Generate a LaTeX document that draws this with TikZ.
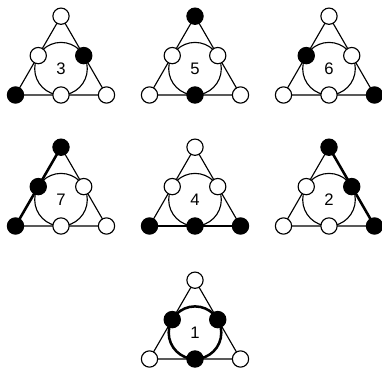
\documentclass[tikz,border=0pt]{standalone}
\usepackage{fontspec}
\setmainfont{Liberation Sans}
\usetikzlibrary{calc}
\begin{document}
\begin{tikzpicture}[x=0.75pt,y=-0.75pt,
  thin line/.style={line width=0.85pt},
  thick line/.style={line width=1.9pt},
  wn/.style={circle,draw,fill=white,line width=0.85pt,inner sep=0pt,minimum size=12.2pt},
  bn/.style={circle,draw,fill=black,line width=0.85pt,inner sep=0pt,minimum size=12.2pt},
  lab/.style={font=\fontsize{12.5}{14}\selectfont,inner sep=0pt}]
\useasboundingbox (0,0) rectangle (382,370);
% base: #1 name, #2 cx, #3 bottom y, #4 label
\newcommand\fanobase[4]{%
  \coordinate (#1t) at (#2,#3-78.8);
  \coordinate (#1bl) at (#2-45.5,#3);
  \coordinate (#1br) at (#2+45.5,#3);
  \coordinate (#1l) at ($(#1t)!0.5!(#1bl)$);
  \coordinate (#1r) at ($(#1t)!0.5!(#1br)$);
  \coordinate (#1bm) at (#2,#3);
  \coordinate (#1c) at (#2,#3-26.3);
  \draw[thin line] (#1t) -- (#1bl) -- (#1br) -- cycle;
  \draw[thin line] (#1c) circle[radius=26.3];
  \node[lab] (#1lab) at (#1c) {#4};
}
% nodes: #1 name, then styles for t, l, r, bl, bm, br
\newcommand\fanonodes[7]{%
  \node[#2] (#1T) at (#1t) {};
  \node[#3] (#1L) at (#1l) {};
  \node[#4] (#1R) at (#1r) {};
  \node[#5] (#1BL) at (#1bl) {};
  \node[#6] (#1BM) at (#1bm) {};
  \node[#7] (#1BR) at (#1br) {};
}
% row 1
\fanobase{a}{61}{95}{3}
\fanonodes{a}{wn}{wn}{bn}{bn}{wn}{wn}
\fanobase{b}{195}{95}{5}
\fanonodes{b}{bn}{wn}{wn}{wn}{bn}{wn}
\fanobase{c}{329}{95}{6}
\fanonodes{c}{wn}{bn}{wn}{wn}{wn}{bn}
% row 2
\fanobase{d}{61}{226}{7}
\draw[thick line] (dt) -- (dbl);
\fanonodes{d}{bn}{bn}{wn}{bn}{wn}{wn}
\fanobase{e}{195}{226}{4}
\draw[thick line] (ebl) -- (ebr);
\fanonodes{e}{wn}{wn}{wn}{bn}{bn}{bn}
\fanobase{f}{329}{226}{2}
\draw[thick line] (ft) -- (fbr);
\fanonodes{f}{bn}{wn}{bn}{wn}{wn}{bn}
% row 3
\fanobase{g}{195}{359}{1}
\draw[thick line] (gc) circle[radius=26.3];
\fanonodes{g}{wn}{bn}{bn}{wn}{bn}{wn}
\end{tikzpicture}
\end{document}
